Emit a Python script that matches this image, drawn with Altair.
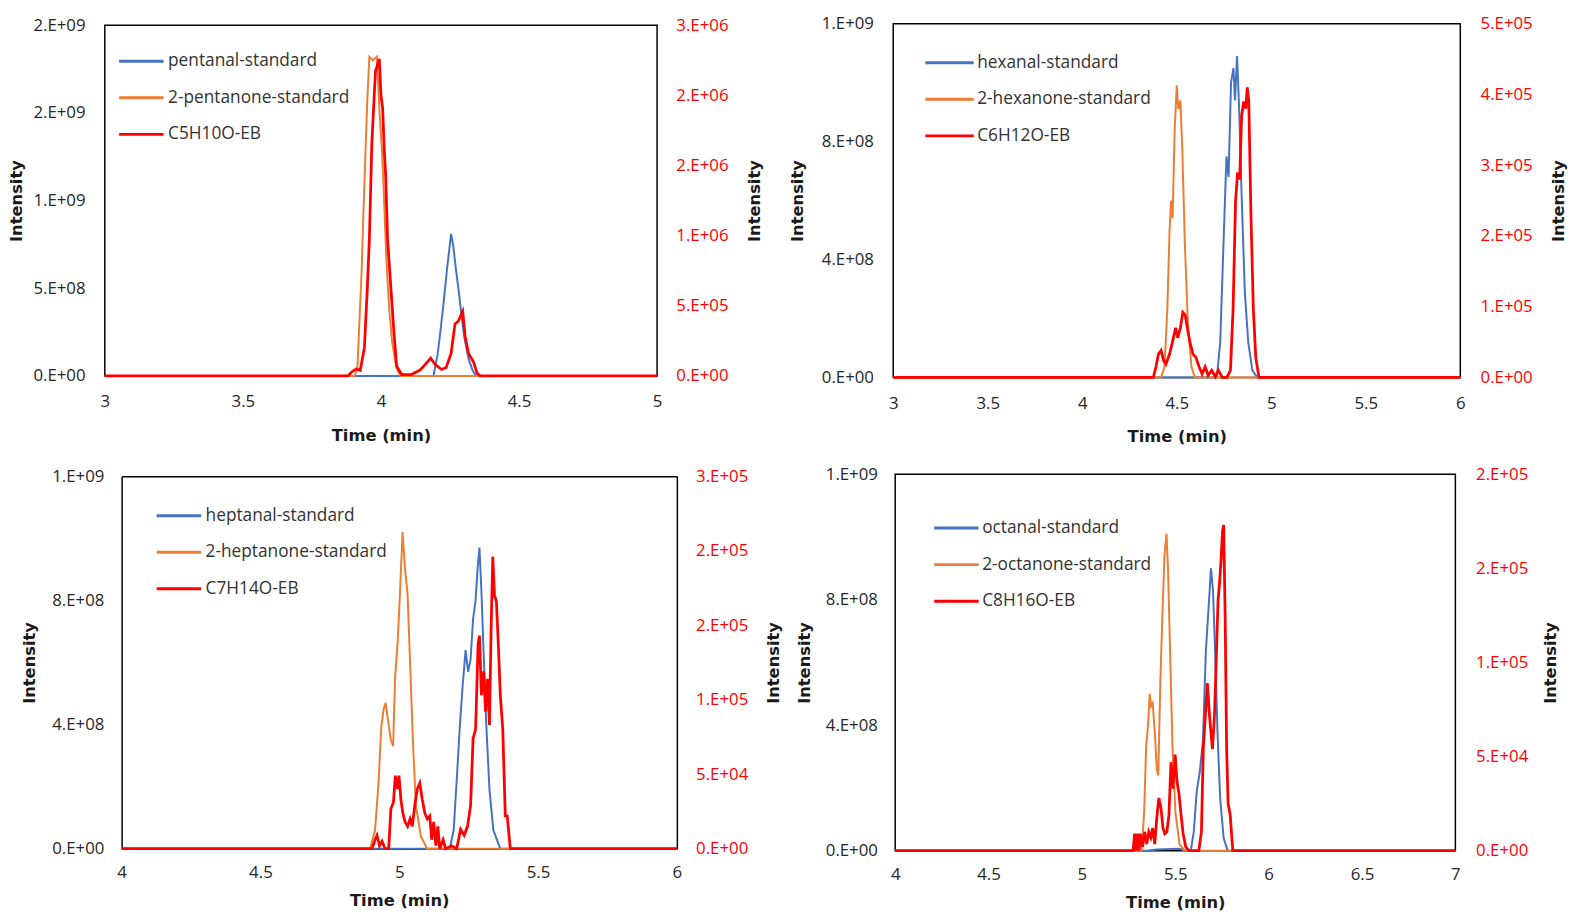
import altair as alt
import pandas as pd

BLUE = "#4472C4"
ORANGE = "#ED7D31"
RED = "#FF0000"

# ---------------- Panel 1 (C5) ----------------
P1_NAMES = ["pentanal-standard", "2-pentanone-standard", "C5H10O-EB"]
P1_ALD_T = [3.0, 4.19, 4.205, 4.215, 4.227, 4.24, 4.254, 4.262, 4.272, 4.282, 4.292, 4.302, 4.317, 4.332, 4.345, 5.0]
P1_ALD_V = [0, 0, 0.12, 0.25, 0.42, 0.62, 0.81, 0.74, 0.60, 0.48, 0.34, 0.22, 0.10, 0.03, 0, 0]  # x1e9
P1_KET_T = [3.0, 3.905, 3.915, 3.93, 3.94, 3.95, 3.958, 3.97, 3.985, 3.995, 4.005, 4.02, 4.03, 4.04, 4.055, 4.07, 5.0]
P1_KET_V = [0, 0, 0.05, 0.60, 1.10, 1.55, 1.82, 1.80, 1.82, 1.50, 1.25, 0.65, 0.38, 0.20, 0.05, 0, 0]  # x1e9
P1_EB_T = [3.0, 3.88, 3.895, 3.91, 3.925, 3.94, 3.95, 3.958, 3.967, 3.98, 3.994, 4.0, 4.006, 4.012, 4.017,
           4.024, 4.04, 4.048, 4.057, 4.075, 4.11, 4.14, 4.155, 4.18, 4.197, 4.22, 4.236, 4.254, 4.268,
           4.28, 4.296, 4.305, 4.317, 4.335, 4.348, 4.36, 5.0]
P1_EB_V = [0, 0, 0.03, 0.05, 0.04, 0.20, 0.60, 0.97, 1.66, 2.17, 2.26, 2.00, 1.91, 1.61, 1.43,
           0.97, 0.51, 0.28, 0.07, 0.01, 0.01, 0.04, 0.07, 0.127, 0.08, 0.046, 0.06, 0.16, 0.37,
           0.39, 0.46, 0.28, 0.16, 0.10, 0.02, 0, 0]  # x1e6

# ---------------- Panel 2 (C6) ----------------
P2_NAMES = ["hexanal-standard", "2-hexanone-standard", "C6H12O-EB"]
P2_ALD_T = [3.0, 4.712, 4.73, 4.747, 4.763, 4.774, 4.787, 4.80, 4.808, 4.819, 4.83, 4.843, 4.86, 4.878, 4.90, 4.926, 6.0]
P2_ALD_V = [0, 0, 0.12, 0.45, 0.75, 0.68, 1.00, 1.05, 0.94, 1.09, 0.91, 0.62, 0.29, 0.12, 0.024, 0, 0]  # x1e9
P2_KET_T = [3.0, 4.417, 4.435, 4.45, 4.462, 4.47, 4.478, 4.489, 4.50, 4.508, 4.519, 4.529, 4.543, 4.559, 4.578, 4.596, 6.0]
P2_KET_V = [0, 0, 0.035, 0.23, 0.50, 0.60, 0.54, 0.84, 0.99, 0.91, 0.94, 0.78, 0.45, 0.18, 0.035, 0, 0]  # x1e9
P2_EB_T = [3.0, 4.376, 4.39, 4.403, 4.417, 4.43, 4.443, 4.462, 4.478, 4.494, 4.505, 4.519, 4.532, 4.545,
           4.559, 4.572, 4.586, 4.602, 4.618, 4.634, 4.65, 4.666, 4.685, 4.704, 4.72, 4.741, 4.765,
           4.784, 4.798, 4.811, 4.822, 4.833, 4.843, 4.854, 4.865, 4.873, 4.881, 4.892, 4.905, 4.918, 4.935, 6.0]
P2_EB_V = [0, 0, 0.15, 0.33, 0.38, 0.24, 0.19, 0.33, 0.51, 0.70, 0.56, 0.70, 0.92, 0.88,
           0.65, 0.47, 0.33, 0.28, 0.15, 0.05, 0.15, 0.03, 0.10, 0.01, 0.10, 0, 0,
           0.10, 0.97, 2.50, 2.90, 2.80, 3.70, 3.90, 3.80, 4.10, 3.90, 2.35, 0.97, 0.28, 0, 0]  # x1e5

# ---------------- Panel 3 (C7) ----------------
P3_NAMES = ["heptanal-standard", "2-heptanone-standard", "C7H14O-EB"]
P3_ALD_T = [4.0, 5.182, 5.196, 5.207, 5.218, 5.228, 5.239, 5.248, 5.257, 5.266, 5.275, 5.282, 5.289,
            5.296, 5.304, 5.314, 5.325, 5.339, 5.364, 6.0]
P3_ALD_V = [0, 0, 0.06, 0.22, 0.39, 0.52, 0.64, 0.57, 0.61, 0.74, 0.80, 0.90, 0.97,
            0.83, 0.63, 0.39, 0.19, 0.06, 0, 0]  # x1e9
P3_KET_T = [4.0, 4.895, 4.913, 4.926, 4.935, 4.944, 4.951, 4.96, 4.97, 4.978, 4.985, 4.994, 5.003,
            5.012, 5.021, 5.03, 5.039, 5.05, 5.06, 5.078, 5.10, 6.0]
P3_KET_V = [0, 0, 0.06, 0.22, 0.39, 0.45, 0.47, 0.41, 0.35, 0.33, 0.55, 0.66, 0.83,
            1.02, 0.90, 0.82, 0.60, 0.33, 0.14, 0.04, 0, 0]  # x1e9
P3_EB_T = [4.0, 4.902, 4.913, 4.92, 4.929, 4.938, 4.949, 4.962, 4.97, 4.979, 4.986, 4.994, 4.999,
           5.006, 5.013, 5.021, 5.03, 5.039, 5.047, 5.056, 5.065, 5.074, 5.083, 5.092, 5.101, 5.11,
           5.117, 5.124, 5.132, 5.139, 5.146, 5.158, 5.167, 5.189, 5.207, 5.221, 5.234, 5.246, 5.257,
           5.266, 5.275, 5.284, 5.289, 5.296, 5.304, 5.311, 5.318, 5.325, 5.331, 5.337, 5.343, 5.35,
           5.357, 5.364, 5.373, 5.382, 5.389, 5.40, 6.0]
P3_EB_V = [0, 0, 0.06, 0.09, 0.02, 0.05, 0, 0, 0.27, 0.31, 0.49, 0.40, 0.49,
           0.33, 0.24, 0.18, 0.15, 0.20, 0.15, 0.29, 0.40, 0.44, 0.33, 0.24, 0.20, 0.22,
           0.06, 0.18, 0.02, 0.15, 0, 0.06, 0, 0.02, 0, 0.13, 0.09, 0.15, 0.29,
           0.74, 0.80, 1.37, 1.43, 1.03, 1.19, 0.92, 1.14, 0.83, 1.48, 1.96, 1.70, 1.66,
           1.37, 1.03, 0.80, 0.22, 0.22, 0, 0]  # x1e5

# ---------------- Panel 4 (C8) ----------------
P4_NAMES = ["octanal-standard", "2-octanone-standard", "C8H16O-EB"]
P4_ALD_T = [4.0, 5.35, 5.40, 5.52, 5.56, 5.583, 5.599, 5.615, 5.631, 5.648, 5.664, 5.678, 5.691,
            5.702, 5.713, 5.726, 5.74, 5.759, 5.78, 7.0]
P4_ALD_V = [0, 0, 0.004, 0.006, 0, 0, 0.06, 0.19, 0.25, 0.35, 0.64, 0.77, 0.90,
            0.83, 0.64, 0.38, 0.17, 0.04, 0, 0]  # x1e9
P4_KET_T = [4.0, 5.32, 5.333, 5.344, 5.355, 5.363, 5.371, 5.379, 5.39, 5.401, 5.409, 5.42, 5.431,
            5.442, 5.453, 5.461, 5.472, 5.485, 5.501, 5.523, 5.55, 7.0]
P4_KET_V = [0, 0, 0.12, 0.33, 0.41, 0.50, 0.46, 0.47, 0.38, 0.26, 0.24, 0.54, 0.75,
            0.94, 1.01, 0.90, 0.64, 0.33, 0.12, 0.02, 0, 0]  # x1e9
P4_EB_T = [4.0, 5.274, 5.282, 5.29, 5.298, 5.306, 5.314, 5.325, 5.336, 5.347, 5.358, 5.369, 5.379,
           5.39, 5.401, 5.412, 5.423, 5.434, 5.444, 5.455, 5.466, 5.477, 5.488, 5.499, 5.509,
           5.52, 5.531, 5.542, 5.556, 5.572, 5.626, 5.64, 5.65, 5.661, 5.672, 5.683, 5.691,
           5.699, 5.71, 5.721, 5.729, 5.737, 5.745, 5.753, 5.759, 5.767, 5.775, 5.783, 5.794,
           5.808, 7.0]
P4_EB_V = [0, 0, 0.09, 0, 0.09, 0, 0.09, 0.02, 0.10, 0.035, 0.10, 0.07, 0.12,
           0.035, 0.175, 0.28, 0.23, 0.12, 0.09, 0.10, 0.19, 0.47, 0.33, 0.51, 0.37,
           0.30, 0.19, 0.09, 0.02, 0, 0, 0.10, 0.54, 0.72, 0.89, 0.72, 0.63,
           0.54, 0.72, 1.07, 1.33, 1.42, 1.54, 1.70, 1.73, 1.25, 0.54, 0.25, 0.19,
           0, 0]  # x1e5

LABEL_EXPR = ("datum.value == 0 ? '0.E+00' : "
              "round(datum.value / pow(10, floor(log(datum.value) / LN10 + 0.000001))) + '.E+' + "
              "(floor(log(datum.value) / LN10 + 0.000001) < 10 ? '0' : '') + "
              "floor(log(datum.value) / LN10 + 0.000001)")

LABEL_FONT = "Open Sans"
TITLE_FONT = "DejaVu Sans"
TICK_SIZE = 17
FRAME = dict(domainColor="#000000", domainWidth=1.5)


def series_df(names, t_list, v_list, unit):
    rows = []
    for name, ts, vs in zip(names, t_list, v_list):
        for t, v in zip(ts, vs):
            rows.append({"t": t, "v": v * unit, "s": name})
    return pd.DataFrame(rows)


def panel(names, ald, ket, eb, std_unit, eb_unit, xdom, xticks, ldom, lticks, rdom, rticks,
          w, h, lp_left, tp_left, lp_right, ext_right, tp_right, lp_x, ext_x, tp_x,
          leg_x, leg_y, leg_lo, leg_size, inset=0):
    """inset > 0: the plot frame starts `inset` px inside the view (frame drawn by axis domains)."""
    left_df = series_df(names[:2], [ald[0], ket[0]], [ald[1], ket[1]], std_unit)
    right_df = series_df(names[2:], [eb[0]], [eb[1]], eb_unit)
    framed = inset > 0

    color = alt.Color(
        "s:N",
        scale=alt.Scale(domain=names, range=[BLUE, ORANGE, RED]),
        sort=names,
        legend=alt.Legend(
            title=None, orient="none", legendX=leg_x + inset, legendY=leg_y, direction="vertical",
            symbolType="stroke", symbolSize=leg_size, symbolStrokeWidth=3, clipHeight=18,
            rowPadding=19, labelOffset=leg_lo, padding=0, labelLimit=400,
            labelFont=LABEL_FONT, labelFontSize=17.5, labelColor="#333333",
        ),
    )
    xscale = alt.Scale(domain=xdom, nice=False, zero=False, range=[inset, inset + w]) if framed \
        else alt.Scale(domain=xdom, nice=False, zero=False)
    x_bottom = alt.X(
        "t:Q", scale=xscale,
        axis=alt.Axis(
            values=xticks, format="~g", title="Time (min)", labelFlush=False, orient="bottom",
            labelPadding=lp_x, minExtent=ext_x, maxExtent=ext_x, titlePadding=tp_x,
            labelFont=LABEL_FONT, labelFontSize=TICK_SIZE, labelColor="#262626",
            titleFont=TITLE_FONT, titleFontSize=16.5, titleFontWeight="bold", titleColor="#1a1a1a",
            ticks=False, domain=framed, grid=False, **FRAME,
        ),
    )
    if framed:
        x_right = alt.X("t:Q", scale=xscale,
                        axis=alt.Axis(orient="top", labels=False, ticks=False, title=None,
                                      domain=True, grid=False, **FRAME))
    else:
        x_right = x_bottom

    left_axis = dict(
        values=lticks, labelExpr=LABEL_EXPR, title="Intensity", orient="left",
        labelPadding=lp_left, minExtent=75, maxExtent=75, titlePadding=tp_left,
        labelFont=LABEL_FONT, labelFontSize=TICK_SIZE, labelColor="#262626",
        titleFont=TITLE_FONT, titleFontSize=16.5, titleFontWeight="bold", titleColor="#1a1a1a",
        ticks=False, domain=framed, grid=False, **FRAME,
    )
    if framed:
        left_axis["offset"] = -inset
    left = alt.Chart(left_df).mark_line(strokeWidth=2).encode(
        x=x_bottom,
        y=alt.Y("v:Q", scale=alt.Scale(domain=ldom, nice=False), axis=alt.Axis(**left_axis)),
        color=color,
    )
    right = alt.Chart(right_df).mark_line(strokeWidth=2.8).encode(
        x=x_right,
        y=alt.Y(
            "v:Q",
            scale=alt.Scale(domain=rdom, nice=False),
            axis=alt.Axis(
                values=rticks, labelExpr=LABEL_EXPR, title="Intensity", orient="right",
                labelPadding=lp_right, minExtent=ext_right, maxExtent=ext_right, titlePadding=tp_right,
                titleAngle=270, titleBaseline="top",
                labelFont=LABEL_FONT, labelFontSize=TICK_SIZE, labelColor=RED,
                titleFont=TITLE_FONT, titleFontSize=16.5, titleFontWeight="bold", titleColor="#1a1a1a",
                ticks=False, domain=framed, grid=False, **FRAME,
            ),
        ),
        color=color,
    )
    layer = alt.layer(left, right)
    if framed:
        layer = layer.resolve_scale(y="independent").resolve_axis(x="independent").properties(
            width=w + inset, height=h, view=alt.ViewBackground(stroke="transparent"))
    else:
        layer = layer.resolve_scale(y="independent").properties(width=w, height=h)
    return layer


p1 = panel(P1_NAMES, (P1_ALD_T, P1_ALD_V), (P1_KET_T, P1_KET_V), (P1_EB_T, P1_EB_V), 1e9, 1e6,
           [3, 5], [3, 3.5, 4, 4.5, 5], [0, 2e9], [0, 5e8, 1e9, 1.5e9, 2e9],
           [0, 2.5e6], [0, 5e5, 1e6, 1.5e6, 2e6, 2.5e6],
           559, 355, 20, 6, 19, 76, 15, 18, 34, 18, 13, 27.5, 3, 2025)
p2 = panel(P2_NAMES, (P2_ALD_T, P2_ALD_V), (P2_KET_T, P2_KET_V), (P2_EB_T, P2_EB_V), 1e9, 1e5,
           [3, 6], [3, 3.5, 4, 4.5, 5, 5.5, 6], [0, 1.2e9], [0, 4e8, 8e8, 1.2e9],
           [0, 5e5], [0, 1e5, 2e5, 3e5, 4e5, 5e5],
           574, 358, 20, 13.5, 20, 75, 16, 18, 34, 18, 31, 30.5, 2, 2401)
p3 = panel(P3_NAMES, (P3_ALD_T, P3_ALD_V), (P3_KET_T, P3_KET_V), (P3_EB_T, P3_EB_V), 1e9, 1e5,
           [4, 6], [4, 4.5, 5, 5.5, 6], [0, 1.2e9], [0, 4e8, 8e8, 1.2e9],
           [0, 2.5e5], [0, 5e4, 1e5, 1.5e5, 2e5, 2.5e5],
           562, 377, 18, 9.8, 19, 76, 13.7, 16, 32, 13, 34, 31, 3, 2025, inset=17)
p4 = panel(P4_NAMES, (P4_ALD_T, P4_ALD_V), (P4_KET_T, P4_KET_V), (P4_EB_T, P4_EB_V), 1e9, 1e5,
           [4, 7], [4, 4.5, 5, 5.5, 6, 6.5, 7], [0, 1.2e9], [0, 4e8, 8e8, 1.2e9],
           [0, 2e5], [0, 5e4, 1e5, 1.5e5, 2e5],
           567, 381, 18, 9, 20.5, 75, 13, 16, 32, 13, 38, 45.5, 2, 2025)

row1 = alt.hconcat(p1, p2, spacing=24, center=True).resolve_scale(color="independent")
row2 = alt.hconcat(p3, p4, spacing=13, center=True).resolve_scale(color="independent")

chart = (
    alt.vconcat(row1, row2, spacing=18)
    .resolve_scale(color="independent")
    .properties(padding={"left": 0, "top": 0, "right": 0, "bottom": 0}, background="white")
    .configure_view(stroke="#000000", strokeWidth=1.5)
)

chart.save("out.html", embed_options={"renderer": "svg", "actions": False})
